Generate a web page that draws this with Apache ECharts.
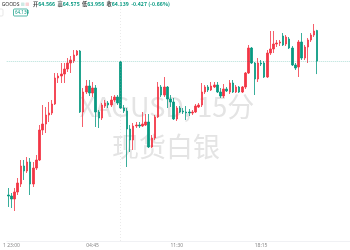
<!DOCTYPE html>
<html><head><meta charset="utf-8">
<script src="https://cdn.jsdelivr.net/npm/echarts@6/dist/echarts.min.js"></script>
<style>html,body{margin:0;padding:0;background:#fff}#c{width:350px;height:250px}</style>
</head><body><div id="c"></div>
<script>
// [open, close, low, high] per 15-minute candle
const ohlc = [
[62.263,62.249,62.095,62.361],[62.249,62.207,62.081,62.291],[62.207,62.305,62.039,62.361],[62.305,62.431,62.263,62.501],
[62.417,62.669,62.375,62.753],[62.669,62.599,62.473,62.753],[62.599,62.725,62.571,62.795],[62.725,62.417,62.263,62.781],
[62.417,62.641,62.375,62.725],[62.641,62.753,62.613,62.823],[62.753,63.173,62.739,63.243],[63.173,63.257,63.103,63.523],
[63.257,63.383,63.131,63.495],[63.383,63.411,63.285,63.565],[63.411,63.537,63.383,63.593],[63.537,63.901,63.523,63.971],
[63.901,63.929,63.831,63.971],[63.929,63.957,63.831,64.111],[63.957,64.027,63.831,64.111],[64.027,64.111,63.985,64.181],
[64.111,64.153,63.971,64.209],[64.139,64.223,64.111,64.293],[64.223,64.279,64.209,64.293],[64.279,63.425,63.411,64.293],
[63.425,63.705,63.215,63.761],[63.705,63.789,63.677,63.873],[63.789,63.691,63.649,63.873],[63.691,63.761,63.635,63.845],
[63.761,63.425,63.215,63.803],[63.425,63.341,63.201,63.453],[63.341,63.523,63.313,63.551],[63.509,63.551,63.481,63.593],
[63.551,63.523,63.481,63.579],[63.523,63.593,63.495,63.649],[63.593,63.635,63.565,63.663],[63.635,63.551,63.523,63.663],
[64.125,63.481,63.467,64.139],[63.481,63.439,63.411,63.523],[63.439,63.187,62.655,63.481],[63.187,63.033,62.865,63.243],
[63.033,63.229,62.893,63.271],[63.229,63.243,63.201,63.285],[63.243,63.229,63.201,63.285],[63.229,63.257,63.215,63.425],
[63.243,63.285,63.229,63.397],[63.285,62.935,62.921,63.397],[62.935,63.061,62.921,63.103],[63.061,63.355,63.033,63.383],
[63.355,63.775,63.341,63.845],[63.775,63.663,63.635,63.803],[63.663,63.775,63.635,63.915],[63.775,63.607,63.481,63.789],
[63.607,63.565,63.495,63.663],[63.565,63.327,63.313,63.621],[63.327,63.481,63.299,63.509],[63.481,63.425,63.411,63.509],
[63.439,63.425,63.397,63.481],[63.425,63.411,63.313,63.509],[63.425,63.411,63.369,63.467],[63.411,63.425,63.383,63.453],
[63.425,63.509,63.411,63.537],[63.495,63.523,63.481,63.551],[63.523,63.705,63.495,63.831],[63.705,63.775,63.677,63.803],
[63.775,63.733,63.705,63.803],[63.733,63.789,63.719,63.845],[63.775,63.803,63.761,63.845],[63.803,63.705,63.691,63.845],
[63.705,63.649,63.621,63.761],[63.649,63.747,63.621,63.817],[63.747,63.719,63.705,63.775],[63.705,63.831,63.677,63.873],
[63.831,63.705,63.691,63.873],[63.705,63.775,63.691,63.803],[63.775,63.705,63.691,63.789],[63.705,63.775,63.691,63.789],
[63.775,63.971,63.747,63.985],[63.971,64.321,63.957,64.363],[64.321,64.111,64.097,64.335],[64.111,63.887,63.663,64.125],
[63.887,64.111,63.845,64.181],[64.111,64.097,64.069,64.153],[64.111,63.915,63.901,64.139],[63.915,64.251,63.901,64.293],
[64.251,64.307,64.223,64.559],[64.307,64.377,64.251,64.559],[64.377,64.391,64.335,64.433],[64.391,64.405,64.349,64.433],
[64.489,64.363,64.349,64.531],[64.377,64.475,64.349,64.503],[64.447,64.321,64.307,64.475],[64.321,64.083,64.069,64.349],
[64.083,64.041,64.013,64.111],[64.055,64.405,63.915,64.433],[64.405,64.181,64.153,64.531],[64.181,64.335,64.153,64.363],
[64.335,64.433,64.111,64.461],[64.433,64.503,64.405,64.531],[64.503,64.559,64.475,64.657],[64.566,64.139,63.956,64.575]
];
const tickIdx = [1, 27, 54, 81];
const tickText = ['1 23:00', '04:45', '11:30', '18:15'];
const lastPrice = 64.139;
const sessionBreakIdx = 36;
const headerLabels = ['开', '高', '低', '收'];
const headerValues = ['64.566', '64.575', '63.956', '64.139'];
const headerChange = '-0.427 (-0.66%)';
const symbolText = '· GOODS';
const watermark1 = 'XAGUSD, 15分';
const watermark2 = '现货白银';

const UP = '#f23645', DOWN = '#089981';
const slotCount = 110;
const categories = [];
for (let i = 0; i < slotCount; i++) categories.push(String(i));
const seriesData = [];
for (let i = 0; i < slotCount; i++) seriesData.push(i < ohlc.length ? ohlc[i] : '-');

let header = '';
for (let i = 0; i < headerLabels.length; i++) {
  header += '{l|' + headerLabels[i] + '}{v|' + headerValues[i] + '}  ';
}
header += '{v|' + headerChange + '}';

const chart = echarts.init(document.getElementById('c'), null, {renderer: 'canvas'});
chart.setOption({
  animation: false,
  backgroundColor: '#ffffff',
  title: [{
    text: symbolText, left: -1, top: 2, padding: 0,
    textStyle: {fontSize: 5, color: '#333', fontWeight: 'normal', fontFamily: 'Noto Sans'}
  }, {
    text: header, left: 33, top: 1.5, padding: 0,
    textStyle: {
      fontSize: 5.2, fontFamily: 'Noto Sans CJK SC',
      rich: {
        l: {fontSize: 5.2, color: '#444', fontFamily: 'Noto Sans CJK SC'},
        v: {fontSize: 5.2, color: DOWN, fontFamily: 'Noto Sans CJK SC'}
      }
    }
  }],
  graphic: [
    {type: 'text', z: -10, x: 167, y: 93, style: {text: watermark1, font: '27px "Noto Sans CJK SC"', fill: '#e4e4e4', align: 'center'}},
    {type: 'text', z: -10, x: 166, y: 133, style: {text: watermark2, font: '27px "Noto Sans CJK SC"', fill: '#e4e4e4', align: 'center'}},
    {type: 'rect', z: 10, shape: {x: 21, y: 2.5, width: 3.5, height: 3.5, r: 0.5}, style: {fill: '#cfe9e4'}},
    {type: 'rect', z: 10, shape: {x: 25.5, y: 2.5, width: 3.5, height: 3.5, r: 0.5}, style: {fill: '#f9d3d6'}},
    {type: 'rect', z: 10, shape: {x: -8, y: 9, width: 11, height: 7, r: 1}, style: {fill: '#fff', stroke: '#dcdcdc', lineWidth: 0.7}},
    {type: 'rect', z: 10, shape: {x: 13.5, y: 9, width: 14, height: 7, r: 1}, style: {fill: '#fff', stroke: DOWN, lineWidth: 0.7}},
    {type: 'text', z: 11, x: 15, y: 10.2, style: {text: String(lastPrice), font: '4.5px "Noto Sans"', fill: DOWN}}
  ],
  grid: {left: 1, right: 0, top: 0, bottom: 9},
  xAxis: {
    type: 'category', data: categories, boundaryGap: true,
    axisLine: {show: true, lineStyle: {color: '#f0f1f4', width: 1}},
    axisTick: {show: false},
    splitLine: {show: false},
    axisLabel: {
      interval: function (idx) { return tickIdx.indexOf(idx) >= 0; },
      formatter: function (v, idx) { const k = tickIdx.indexOf(idx); return k >= 0 ? tickText[k] : ''; },
      fontSize: 5, color: '#888', margin: 2, fontFamily: 'Noto Sans'
    }
  },
  yAxis: {
    type: 'value', min: 61.619, max: 64.993, show: false, scale: true,
    splitLine: {show: false}
  },
  series: [{
    type: 'candlestick',
    data: seriesData,
    barWidth: 2,
    itemStyle: {color: UP, color0: DOWN, borderColor: UP, borderColor0: DOWN, borderWidth: 0.8},
    markLine: {
      silent: true, symbol: 'none', animation: false,
      label: {show: false},
      data: [
        {yAxis: lastPrice, lineStyle: {color: 'rgba(8,153,129,0.3)', type: [1, 1], width: 1}},
        {xAxis: sessionBreakIdx, lineStyle: {color: 'rgba(170,170,170,0.25)', type: [1, 2], width: 1}}
      ]
    }
  }]
});
</script></body></html>
